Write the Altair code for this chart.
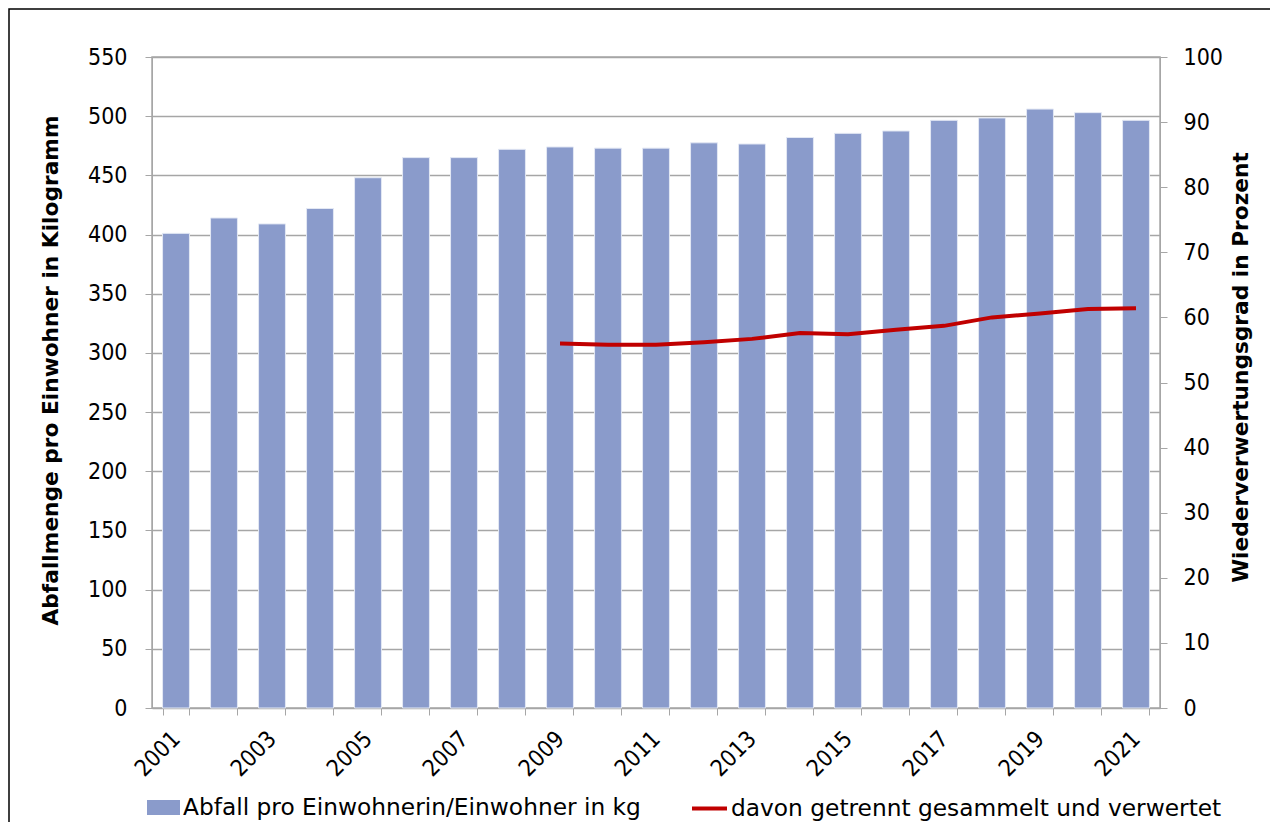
import altair as alt
import pandas as pd

years = [str(y) for y in range(2001, 2022)]
abfall_kg = [401, 414, 409, 422, 448, 465, 465, 472, 474, 473, 473, 477.5, 476.5,
             482, 485.5, 487.5, 496.5, 498.5, 506, 503, 496.5]
quote_years = [str(y) for y in range(2009, 2022)]
quote_pct = [56.0, 55.8, 55.8, 56.2, 56.7, 57.6, 57.4, 58.1, 58.7, 60.0, 60.6, 61.3, 61.4]
y_left_ticks = list(range(0, 551, 50))
y_right_ticks = list(range(0, 101, 10))

bar_name = "Abfall pro Einwohnerin/Einwohner in kg"
line_name = "davon getrennt gesammelt und verwertet"

bar_df = pd.DataFrame({"Jahr": years, "Wert": abfall_kg, "Reihe": [bar_name] * len(years)})
line_df = pd.DataFrame({"Jahr": quote_years, "Quote": quote_pct, "Reihe": [line_name] * len(quote_years)})

NUM_FONT = "DejaVu Sans Condensed"
TXT_FONT = "DejaVu Sans"
GRAY = "#A6A6A6"
BAR = "#8A9BCB"
RED = "#C00000"

x_enc = alt.X(
    "Jahr:O",
    scale=alt.Scale(domain=years, paddingInner=0.44, paddingOuter=0.22),
    axis=alt.Axis(
        title=None, labelAngle=315, labelAlign="right", labelBaseline="middle",
        labelExpr="toNumber(datum.value) % 2 == 1 ? datum.label : ''",
        labelOverlap=False, tickBand="extent", tickSize=7, tickColor=GRAY,
        domainColor=GRAY, labelFontSize=23, labelPadding=20, labelColor="#000000",
        labelFont=NUM_FONT, grid=False,
    ),
)

frame = alt.Chart(pd.DataFrame({"a": [0]})).mark_rect(
    fillOpacity=0, stroke="#000000", strokeWidth=1.5
).encode(
    x=alt.value(-143), x2=alt.value(1400), y=alt.value(-48), y2=alt.value(1000)
)

bars = alt.Chart(bar_df).mark_bar(stroke="#E3E8F4", strokeWidth=1).encode(
    x=x_enc,
    y=alt.Y(
        "Wert:Q",
        scale=alt.Scale(domain=[0, 550], nice=False),
        axis=alt.Axis(
            values=y_left_ticks, title="Abfallmenge pro Einwohner in Kilogramm",
            titleFontSize=21.7, titleFontWeight="bold", titleAngle=270, titleFont=TXT_FONT,
            titleBaseline="bottom", titleAlign="center", titleX=-90, titleY=313,
            labelFontSize=23, labelFont=NUM_FONT, labelPadding=18, tickSize=7, tickColor=GRAY,
            domainColor=GRAY, grid=True, gridColor=GRAY, gridWidth=1.5,
            labelColor="#000000", titleColor="#000000",
        ),
    ),
    fill=alt.Fill(
        "Reihe:N",
        scale=alt.Scale(domain=[bar_name], range=[BAR]),
        legend=alt.Legend(
            title=None, orient="none", legendX=-5, legendY=734,
            symbolType="M-1,-0.45L1,-0.45L1,0.45L-1,0.45Z", symbolSize=1089,
            symbolStrokeWidth=0, labelFontSize=23.3, labelFont=TXT_FONT, labelOffset=3,
            labelColor="#000000",
        ),
    ),
)

line = alt.Chart(line_df).mark_line(strokeWidth=4).encode(
    x=x_enc,
    y=alt.Y(
        "Quote:Q",
        scale=alt.Scale(domain=[0, 100], nice=False),
        axis=alt.Axis(
            orient="right", values=y_right_ticks, title="Wiederverwertungsgrad in Prozent",
            titleFontSize=21.7, titleFontWeight="bold", titleAngle=270, titleFont=TXT_FONT,
            titleBaseline="bottom", titleAlign="center", titleX=92, titleY=310,
            labelFontSize=23, labelFont=NUM_FONT, labelPadding=16, tickSize=7, tickColor=GRAY,
            domainColor=GRAY, grid=False, labelColor="#000000", titleColor="#000000",
        ),
    ),
    stroke=alt.Stroke(
        "Reihe:N",
        scale=alt.Scale(domain=[line_name], range=[RED]),
        legend=alt.Legend(
            title=None, orient="none", legendX=538, legendY=732,
            symbolType="stroke", symbolSize=1225, symbolStrokeWidth=4,
            labelFontSize=23.3, labelFont=TXT_FONT, labelOffset=2, labelColor="#000000",
        ),
    ),
)

chart = alt.layer(frame, bars, line).resolve_scale(
    y="independent", fill="independent", stroke="independent"
).properties(
    width=1008, height=651,
    autosize=alt.AutoSizeParams(type="none"),
    padding={"left": 144, "top": 49, "right": 110, "bottom": 114},
).configure(
    font=TXT_FONT,
).configure_view(
    stroke=GRAY, strokeWidth=1.5,
).configure_legend(
    labelLimit=0,
)

chart.save("out.html", embed_options={"renderer": "svg", "actions": False})
